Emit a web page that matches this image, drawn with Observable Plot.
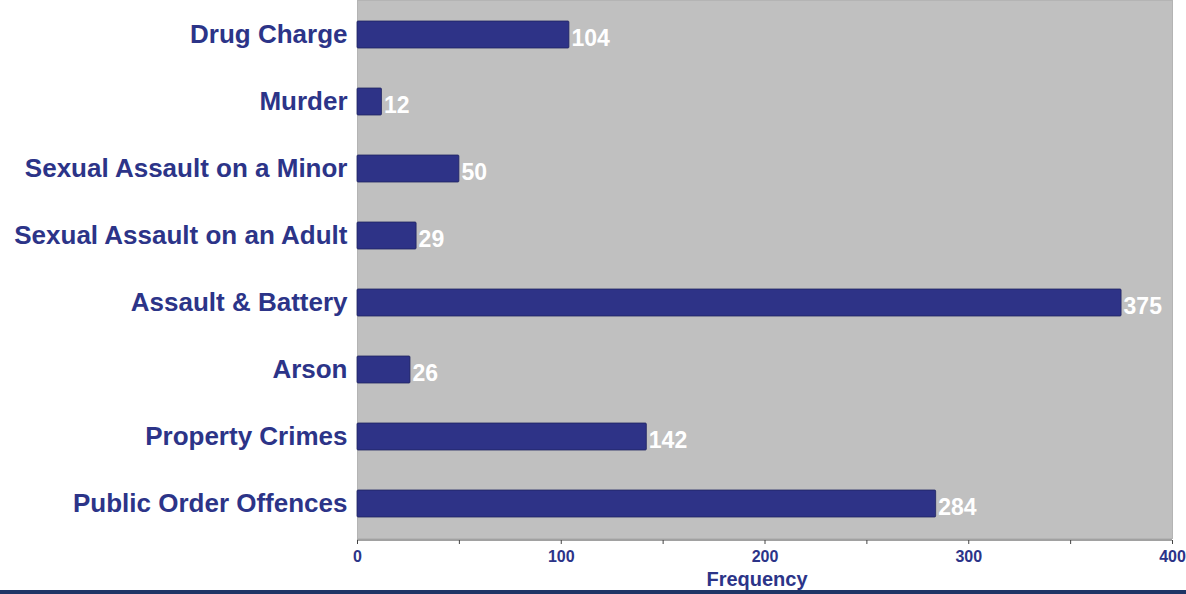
<!DOCTYPE html>
<html>
<head>
<meta charset="utf-8">
<script src="https://cdn.jsdelivr.net/npm/d3@7"></script>
<script src="https://cdn.jsdelivr.net/npm/@observablehq/plot@0.6"></script>
<style>
  html, body { margin: 0; padding: 0; background: #ffffff; }
  #chart svg { display: block; }
  .bottom-line { width: 1186px; height: 4px; background: #1f3566; }
</style>
</head>
<body>
<div id="chart"></div>
<div class="bottom-line"></div>
<script>
const categories = [
  "Drug Charge",
  "Murder",
  "Sexual Assault on a Minor",
  "Sexual Assault on an Adult",
  "Assault & Battery",
  "Arson",
  "Property Crimes",
  "Public Order Offences"
];
const values = [104, 12, 50, 29, 375, 26, 142, 284];
const xTicks = [0, 50, 100, 150, 200, 250, 300, 350, 400];
const xTitle = "Frequency";

const data = categories.map((c, i) => ({category: c, value: values[i]}));
const navy = "#2e3387";
const labelColor = "#2c3488";

const chart = Plot.plot({
  width: 1186,
  height: 590,
  marginLeft: 357,
  marginRight: 14,
  marginTop: 0,
  marginBottom: 52,
  style: {fontFamily: "Liberation Sans, Arial, sans-serif", background: "#ffffff"},
  x: {domain: [0, 400]},
  y: {domain: categories, paddingInner: 0.6, paddingOuter: 0.3},
  marks: [
    Plot.frame({fill: "#c0c0c0", stroke: "#b4b4b4"}),
    Plot.barX(data, {y: "category", x: "value", fill: navy, stroke: "#1e2360", strokeWidth: 0.8, rx: 1}),
    Plot.text(data, {
      y: "category", x: "value", text: d => String(d.value),
      textAnchor: "start", dx: 2, dy: 4, fill: "#ffffff",
      fontSize: 23, fontWeight: "bold"
    }),
    Plot.ruleY([categories[categories.length - 1]], {x1: 0, x2: 400, stroke: "#444", strokeWidth: 1.2, dy: 36}),
    Plot.axisX({
      ticks: xTicks, tickSize: 4, tickPadding: 6,
      tickFormat: d => d % 100 === 0 ? String(d) : "",
      fontSize: 16, fontWeight: "bold", fill: labelColor, stroke: "#444",
      label: null, dy: 2
    }),
    Plot.axisY({
      tickSize: 0, tickPadding: 10, fontSize: 26, fontWeight: "bold",
      fill: labelColor, label: null
    }),
    Plot.text([xTitle], {
      frameAnchor: "bottom", lineAnchor: "middle", dy: 41, dx: -8, fill: labelColor,
      fontSize: 20, fontWeight: "bold", text: d => d
    })
  ]
});
document.getElementById("chart").appendChild(chart);
</script>
</body>
</html>
